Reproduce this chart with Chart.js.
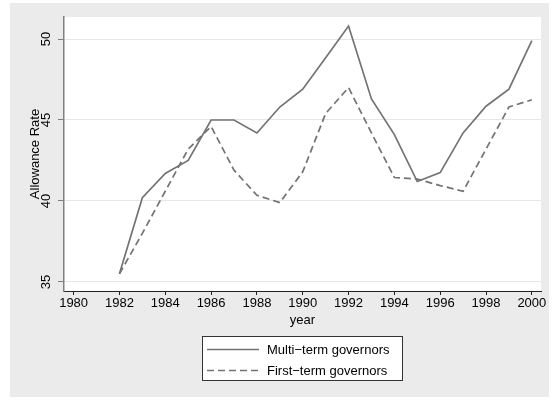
<!DOCTYPE html>
<html>
<head>
<meta charset="utf-8">
<script src="https://cdn.jsdelivr.net/npm/chart.js@4.4.1/dist/chart.umd.min.js"></script>
<style>
  html, body { margin: 0; padding: 0; background: #ffffff; }
  #wrap { width: 554px; height: 400px; position: relative; }
</style>
</head>
<body>
<div id="wrap"><canvas id="chart" width="554" height="400"></canvas></div>
<script>
// Allowance rate by year, multi-term vs first-term governors
const years = [1982, 1983, 1984, 1985, 1986, 1987, 1988, 1989, 1990, 1991,
               1992, 1993, 1994, 1995, 1996, 1997, 1998, 1999, 2000];
const multiTerm = [35.5, 40.2, 41.7, 42.5, 45.0, 45.0, 44.2, 45.8, 46.9, 48.85,
                   50.8, 46.3, 44.1, 41.2, 41.75, 44.2, 45.85, 46.9, 49.9];
const firstTerm = [35.5, 38.0, 40.6, 43.2, 44.6, 41.9, 40.35, 39.9, 41.8, 45.4,
                   47.0, 44.2, 41.45, 41.35, 40.95, 40.6, 43.2, 45.8, 46.25];
const seriesLabels = ['Multi\u2212term governors', 'First\u2212term governors'];
const xTickValues = [1980, 1982, 1984, 1986, 1988, 1990, 1992, 1994, 1996, 1998, 2000];
const yTickValues = [35, 40, 45, 50];

const FONT = 'Liberation Sans, Arial, Helvetica, sans-serif';
const LINE_COLOR = '#737373';

const toPoints = vals => years.map((yr, i) => ({ x: yr, y: vals[i] }));

// Background panel, white plot region and boxed legend
const framePlugin = {
  id: 'frame',
  beforeDraw(chart) {
    const { ctx, chartArea: a } = chart;
    ctx.save();
    ctx.fillStyle = '#ebebeb';
    ctx.fillRect(10, 3, 539, 394);
    ctx.fillStyle = '#ffffff';
    ctx.fillRect(a.left, a.top, a.right - a.left, a.bottom - a.top);
    ctx.restore();
  },
  afterDraw(chart) {
    const { ctx } = chart;
    const box = { x: 202, y: 336, w: 201, h: 45 };
    ctx.save();
    ctx.fillStyle = '#ffffff';
    ctx.fillRect(box.x, box.y, box.w, box.h);
    ctx.strokeStyle = '#333333';
    ctx.lineWidth = 1;
    ctx.strokeRect(box.x + 0.5, box.y + 0.5, box.w - 1, box.h - 1);
    ctx.font = '13px ' + FONT;
    ctx.textBaseline = 'middle';
    ctx.textAlign = 'left';
    chart.data.datasets.forEach((ds, i) => {
      const yy = box.y + 13.5 + i * 21;
      ctx.strokeStyle = ds.borderColor;
      ctx.lineWidth = ds.borderWidth;
      ctx.setLineDash(ds.borderDash || []);
      ctx.beginPath();
      ctx.moveTo(box.x + 5, yy);
      ctx.lineTo(box.x + 57, yy);
      ctx.stroke();
      ctx.setLineDash([]);
      ctx.fillStyle = '#000000';
      ctx.fillText(ds.label, box.x + 65, yy + 0.5);
    });
    ctx.restore();
  }
};

new Chart(document.getElementById('chart'), {
  type: 'line',
  data: {
    datasets: [
      {
        label: seriesLabels[0],
        data: toPoints(multiTerm),
        borderColor: LINE_COLOR,
        borderWidth: 1.7,
        pointRadius: 0,
        tension: 0,
        fill: false
      },
      {
        label: seriesLabels[1],
        data: toPoints(firstTerm),
        borderColor: LINE_COLOR,
        borderWidth: 1.7,
        borderDash: [7, 4],
        pointRadius: 0,
        tension: 0,
        fill: false
      }
    ]
  },
  options: {
    responsive: false,
    animation: false,
    events: [],
    layout: { padding: { left: 0, top: 17, right: 13, bottom: 69 } },
    plugins: {
      legend: { display: false },
      tooltip: { enabled: false }
    },
    scales: {
      x: {
        type: 'linear',
        position: 'bottom',
        min: 1979.58,
        max: 2000.4,
        afterBuildTicks: s => { s.ticks = xTickValues.map(v => ({ value: v })); },
        afterFit: s => { s.height = 40; },
        border: { display: true, color: '#222222', width: 1 },
        grid: {
          drawOnChartArea: false,
          drawTicks: true,
          tickLength: 4,
          tickColor: '#222222',
          tickWidth: 1
        },
        ticks: {
          color: '#000000',
          font: { family: FONT, size: 13 },
          padding: 1,
          maxRotation: 0,
          autoSkip: false,
          callback: v => String(v)
        },
        title: {
          display: true,
          text: 'year',
          color: '#000000',
          font: { family: FONT, size: 13 },
          padding: { top: 0, bottom: 3 }
        }
      },
      y: {
        type: 'linear',
        position: 'left',
        min: 34.44,
        max: 51.36,
        afterBuildTicks: s => { s.ticks = yTickValues.map(v => ({ value: v })); },
        afterFit: s => { s.width = 64; },
        border: { display: true, color: '#808080', width: 1.5 },
        grid: {
          color: '#e6e6e6',
          lineWidth: 1,
          drawTicks: true,
          tickLength: 6,
          tickColor: '#808080',
          tickWidth: 1
        },
        ticks: {
          color: '#000000',
          font: { family: FONT, size: 13 },
          padding: 4,
          minRotation: 90,
          maxRotation: 90,
          crossAlign: 'center',
          autoSkip: false,
          callback: v => String(v)
        },
        title: {
          display: true,
          text: 'Allowance Rate',
          color: '#000000',
          font: { family: FONT, size: 13 },
          padding: { top: 28, bottom: 0 }
        }
      }
    }
  },
  plugins: [framePlugin]
});
</script>
</body>
</html>
